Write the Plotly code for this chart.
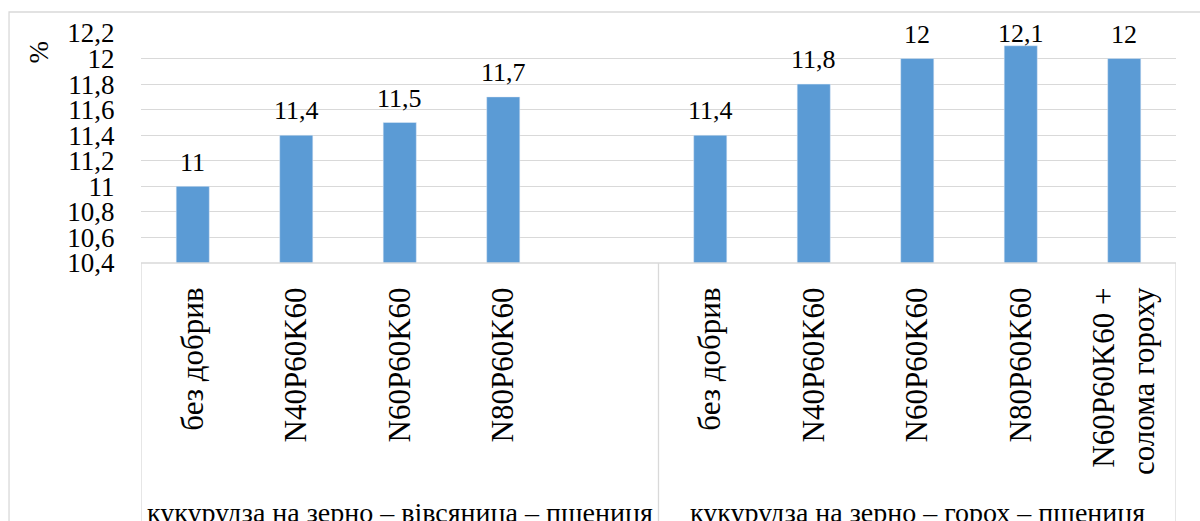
import plotly.graph_objects as go

# ---- data ----
group_names = ["кукурудза на зерно – вівсяница – пшениця",
               "кукурудза на зерно – горох – пшениця"]
group1_cats = ["без добрив", "N40P60K60", "N60P60K60", "N80P60K60"]
group1_vals = [11.0, 11.4, 11.5, 11.7]
group2_cats = ["без добрив", "N40P60K60", "N60P60K60", "N80P60K60",
               "N60P60K60 +<br>солома гороху"]
group2_vals = [11.4, 11.8, 12.0, 12.1, 12.0]
y_ticks = [10.4, 10.6, 10.8, 11.0, 11.2, 11.4, 11.6, 11.8, 12.0, 12.2]
y_title = "%"

SLOTS = 5  # category slots per group
FONT = "Liberation Serif"
BAR_COLOR = "#5B9BD5"
LINE_COLOR = "#D9D9D9"


def fmt(v):
    return f"{v:g}".replace(".", ",")


x1 = list(range(len(group1_cats)))
x2 = [SLOTS + i for i in range(len(group2_cats))]
xs = x1 + x2
vals = group1_vals + group2_vals
cats = group1_cats + group2_cats

fig = go.Figure()
fig.add_trace(go.Bar(x=xs, y=vals, width=0.32, marker=dict(color=BAR_COLOR),
                     hoverinfo="skip", showlegend=False))

ymin, ymax = y_ticks[0], y_ticks[-1]

annotations = []
for x, v in zip(xs, vals):
    annotations.append(dict(x=x, y=min(v + 0.19, ymax - 0.005), xref="x", yref="y",
                            text=fmt(v), showarrow=False, yanchor="middle",
                            font=dict(family=FONT, size=26)))

# group labels
for gi, name in enumerate(group_names):
    annotations.append(dict(x=gi * SLOTS + (SLOTS - 1) / 2, y=-1.083, xref="x", yref="paper",
                            text=name, showarrow=False, yanchor="middle",
                            font=dict(family=FONT, size=28)))

# y axis title
annotations.append(dict(x=-0.115, y=0.978, xref="paper", yref="paper", text=y_title,
                        showarrow=False, textangle=-90,
                        font=dict(family=FONT, size=27)))

shapes = []
shapes.append(dict(type="line", xref="paper", yref="paper", x0=0, x1=1, y0=0, y1=0,
                   line=dict(color=LINE_COLOR, width=1.3)))
for xv in [-0.5, SLOTS - 0.5, 2 * SLOTS - 0.5]:
    shapes.append(dict(type="line", xref="x", yref="paper", x0=xv, x1=xv, y0=0, y1=-1.3,
                       line=dict(color=LINE_COLOR, width=1.3)))
shapes.append(dict(type="rect", xref="paper", yref="paper", x0=-0.1275, x1=1.04,
                   y0=-1.3, y1=1.0913, line=dict(color=LINE_COLOR, width=1.3),
                   layer="below"))

fig.update_layout(
    width=1200, height=521,
    margin=dict(l=141, r=24, t=33, b=258),
    paper_bgcolor="white", plot_bgcolor="white",
    xaxis=dict(range=[-0.5, 2 * SLOTS - 0.5], tickmode="array", tickvals=xs, ticktext=cats,
               tickangle=-90, ticks="outside", ticklen=11, tickcolor="rgba(0,0,0,0)",
               showgrid=False, zeroline=False, showline=False,
               tickfont=dict(family=FONT, size=31, color="#000000")),
    yaxis=dict(range=[ymin, ymax], tickmode="array", tickvals=y_ticks,
               ticktext=[fmt(t) for t in y_ticks],
               ticks="outside", ticklen=20, tickcolor="rgba(0,0,0,0)",
               showgrid=True, gridcolor=LINE_COLOR, gridwidth=1.3,
               zeroline=False, showline=False,
               tickfont=dict(family=FONT, size=27, color="#000000")),
    annotations=annotations,
    shapes=shapes,
)
fig.update_annotations(font_color="#000000")

fig.write_html("out.html")
